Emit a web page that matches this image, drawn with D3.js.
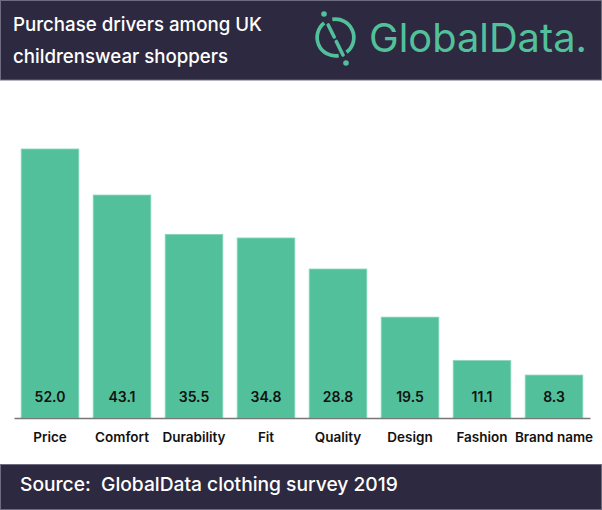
<!DOCTYPE html>
<html>
<head>
<meta charset="utf-8">
<script src="https://cdn.jsdelivr.net/npm/d3@7"></script>
<style>
  html, body { margin: 0; padding: 0; background: #fff; }
  svg { display: block; }
  text { font-family: Inter, "Noto Sans", sans-serif; }
</style>
</head>
<body>
<svg id="chart" width="602" height="510"></svg>
<script>
const categories = ["Price", "Comfort", "Durability", "Fit", "Quality", "Design", "Fashion", "Brand name"];
const values = [52.0, 43.1, 35.5, 34.8, 28.8, 19.5, 11.1, 8.3];
const valueLabels = ["52.0", "43.1", "35.5", "34.8", "28.8", "19.5", "11.1", "8.3"];
const titleLines = ["Purchase drivers among UK", "childrenswear shoppers"];
const sourceText = "Source:  GlobalData clothing survey 2019";
const brandText = "GlobalData.";

const W = 602, H = 510;
const dark = "#2d2940";
const green = "#52c19b";
const svg = d3.select("#chart");

function fitWidth(sel, target) {
  const fs = parseFloat(sel.attr("font-size"));
  const w = sel.node().getComputedTextLength();
  sel.attr("font-size", (fs * target / w).toFixed(2));
}

// Header
svg.append("rect").attr("x", 0.5).attr("y", 0.5).attr("width", W - 1).attr("height", 79.5)
  .attr("fill", dark).attr("stroke", "#6f6c80").attr("stroke-width", 1);

const t1 = svg.append("text").attr("x", 13).attr("y", 31).attr("fill", "#fff")
  .attr("font-size", 19).attr("font-weight", 500).text(titleLines[0]);
fitWidth(t1, 249);
svg.append("text").attr("x", 13).attr("y", 62.5).attr("fill", "#fff")
  .attr("font-size", t1.attr("font-size")).attr("font-weight", 500).text(titleLines[1]);

// Logo icon
const logo = svg.append("g").attr("transform", "translate(335.5,37.5)");
const ring = d3.arc().innerRadius(16.5).outerRadius(20.2);
const deg = Math.PI / 180;
logo.append("path").attr("d", ring({startAngle: -10 * deg, endAngle: 143 * deg})).attr("fill", green);
logo.append("path").attr("d", ring({startAngle: 170 * deg, endAngle: 322 * deg})).attr("fill", green);
logo.append("line").attr("x1", -7.3).attr("y1", -12.5).attr("x2", -1.3).attr("y2", -0.5)
  .attr("stroke", green).attr("stroke-width", 3.6).attr("stroke-linecap", "round");
logo.append("line").attr("x1", 0.8).attr("y1", 4).attr("x2", 7.5).attr("y2", 17.5)
  .attr("stroke", green).attr("stroke-width", 3.6).attr("stroke-linecap", "round");
logo.append("circle").attr("cx", -11.5).attr("cy", -23.5).attr("r", 2.8).attr("fill", green);
logo.append("circle").attr("cx", 10.5).attr("cy", 25.5).attr("r", 2.8).attr("fill", green);

const brand = svg.append("text").attr("x", 369).attr("y", 52).attr("fill", green)
  .attr("font-family", "Lato, sans-serif").attr("font-size", 38).attr("font-weight", 400)
  .text(brandText);
fitWidth(brand, 218);

// Chart
const x = d3.scaleBand().domain(categories).range([14, 590]).paddingInner(0.2).paddingOuter(0.1);
const y = d3.scaleLinear().domain([0, 52]).range([418, 149]);

svg.append("g").selectAll("rect").data(values).join("rect")
  .attr("x", (d, i) => x(categories[i]))
  .attr("y", d => y(d))
  .attr("width", x.bandwidth())
  .attr("height", d => y(0) - y(d))
  .attr("fill", green)
  .attr("stroke", "#86d5b9").attr("stroke-width", 0.8);

svg.append("g").selectAll("text").data(values).join("text")
  .attr("x", (d, i) => x(categories[i]) + x.bandwidth() / 2)
  .attr("y", 402)
  .attr("text-anchor", "middle")
  .attr("font-size", 14).attr("font-weight", 600).attr("fill", "#111")
  .text((d, i) => valueLabels[i]);

const xAxis = svg.append("g").attr("transform", "translate(0,418)")
  .call(d3.axisBottom(x).tickSize(0).tickPadding(14));
xAxis.select(".domain").attr("stroke", "#777").attr("stroke-width", 1.5);
xAxis.selectAll("text").attr("font-size", 13.5).attr("font-weight", 600).attr("fill", "#111")
  .attr("font-family", "Inter, sans-serif");

// Footer
svg.append("rect").attr("x", 0.5).attr("y", 464.5).attr("width", W - 1).attr("height", 45)
  .attr("fill", dark).attr("stroke", "#6f6c80").attr("stroke-width", 1);
const src = svg.append("text").attr("x", 20).attr("y", 491).attr("fill", "#fff")
  .attr("font-size", 19).attr("font-weight", 500).style("white-space", "pre")
  .text(sourceText);
fitWidth(src, 378);
</script>
</body>
</html>
